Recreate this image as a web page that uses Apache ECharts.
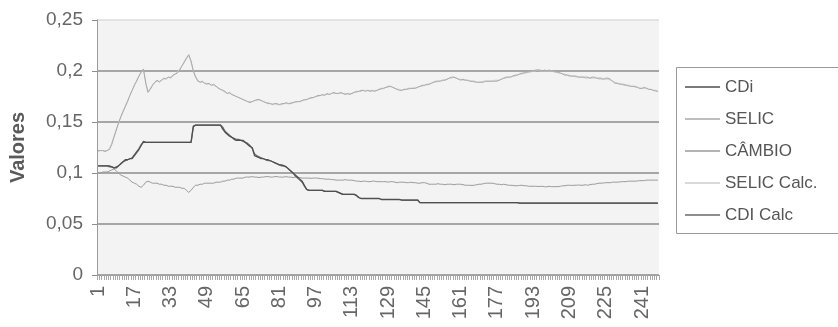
<!DOCTYPE html>
<html>
<head>
<meta charset="utf-8">
<style>
  html, body { margin: 0; padding: 0; background: #ffffff; overflow: hidden; }
  #chart { width: 838px; height: 327px; }
</style>
<script src="https://cdn.jsdelivr.net/npm/echarts@6/dist/echarts.min.js"></script>
</head>
<body>
<div id="chart"></div>
<script>
// Observation index 1..248
const categories = Array.from({ length: 248 }, (_, k) => String(k + 1));

const yTicks = [0, 0.05, 0.1, 0.15, 0.2, 0.25];

const cdi = [
  0.107,0.107,0.107,0.107,0.107,0.107,0.106,0.105,0.105,0.107,0.109,0.111,0.113,0.113,0.114,0.114,
  0.117,0.120,0.123,0.127,0.131,0.130,0.130,0.130,0.130,0.130,0.130,0.130,0.130,0.130,0.130,0.130,
  0.130,0.130,0.130,0.130,0.130,0.130,0.130,0.130,0.130,0.130,0.146,0.147,0.147,0.147,0.147,0.147,
  0.147,0.147,0.147,0.147,0.147,0.147,0.147,0.143,0.140,0.138,0.136,0.135,0.133,0.132,0.132,0.132,
  0.132,0.130,0.128,0.126,0.125,0.117,0.116,0.115,0.114,0.114,0.113,0.113,0.112,0.111,0.110,0.109,
  0.108,0.108,0.107,0.106,0.104,0.102,0.100,0.098,0.096,0.094,0.092,0.088,0.084,0.083,0.083,0.083,
  0.083,0.083,0.083,0.083,0.082,0.082,0.082,0.082,0.082,0.082,0.081,0.080,0.079,0.079,0.079,0.079,
  0.079,0.079,0.078,0.076,0.075,0.075,0.075,0.075,0.075,0.075,0.075,0.075,0.075,0.074,0.074,0.074,
  0.074,0.074,0.074,0.074,0.074,0.074,0.0735,0.0735,0.0735,0.0735,0.0735,0.0735,0.0735,0.0735,0.071,0.071,
  0.071,0.071,0.071,0.071,0.071,0.071,0.071,0.071,0.071,0.071,0.071,0.071,0.071,0.071,0.071,0.071,
  0.071,0.071,0.071,0.071,0.071,0.071,0.071,0.071,0.071,0.071,0.071,0.071,0.071,0.071,0.071,0.071,
  0.071,0.071,0.071,0.071,0.071,0.071,0.071,0.071,0.071,0.071,0.0705,0.0705,0.0705,0.0705,0.0705,0.0705,
  0.0705,0.0705,0.0705,0.0705,0.0705,0.0705,0.0705,0.0705,0.0705,0.0705,0.0705,0.0705,0.0705,0.0705,0.0705,0.0705,
  0.0705,0.0705,0.0705,0.0705,0.0705,0.0705,0.0705,0.0705,0.0705,0.0705,0.0705,0.0705,0.0705,0.0705,0.0705,0.0705,
  0.0705,0.0705,0.0705,0.0705,0.0705,0.0705,0.0705,0.0705,0.0705,0.0705,0.0705,0.0705,0.0705,0.0705,0.0705,0.0705,
  0.0705,0.0705,0.0705,0.0705,0.0705,0.0705,0.0705,0.0705
];

const selic = [
  0.122,0.122,0.122,0.121,0.122,0.123,0.128,0.135,0.142,0.149,0.155,0.160,0.165,0.170,0.176,0.181,
  0.186,0.190,0.195,0.199,0.202,0.188,0.179,0.182,0.186,0.189,0.191,0.189,0.191,0.193,0.192,0.194,
  0.193,0.196,0.197,0.198,0.201,0.205,0.209,0.213,0.216,0.210,0.200,0.194,0.190,0.189,0.190,0.188,
  0.187,0.188,0.186,0.187,0.185,0.183,0.182,0.181,0.180,0.178,0.179,0.177,0.176,0.175,0.174,0.173,
  0.172,0.171,0.170,0.169,0.170,0.171,0.172,0.172,0.171,0.170,0.169,0.168,0.168,0.167,0.168,0.168,
  0.167,0.168,0.168,0.169,0.168,0.168,0.169,0.170,0.170,0.170,0.171,0.172,0.172,0.173,0.174,0.174,
  0.175,0.176,0.176,0.177,0.176,0.178,0.177,0.178,0.179,0.178,0.178,0.179,0.178,0.177,0.178,0.177,
  0.178,0.179,0.180,0.180,0.181,0.181,0.180,0.181,0.180,0.181,0.180,0.181,0.182,0.183,0.183,0.184,
  0.185,0.185,0.184,0.183,0.182,0.181,0.181,0.182,0.182,0.183,0.183,0.183,0.183,0.184,0.185,0.186,
  0.186,0.187,0.187,0.188,0.189,0.190,0.190,0.190,0.191,0.191,0.192,0.193,0.194,0.194,0.193,0.192,
  0.191,0.192,0.191,0.191,0.190,0.190,0.190,0.189,0.189,0.189,0.189,0.190,0.190,0.190,0.190,0.190,
  0.190,0.191,0.192,0.193,0.194,0.194,0.194,0.195,0.196,0.196,0.197,0.198,0.198,0.199,0.199,0.200,
  0.200,0.201,0.201,0.201,0.200,0.201,0.200,0.201,0.200,0.200,0.199,0.199,0.198,0.197,0.196,0.196,
  0.195,0.195,0.195,0.195,0.194,0.194,0.194,0.194,0.194,0.193,0.194,0.194,0.193,0.193,0.193,0.192,
  0.193,0.193,0.192,0.190,0.188,0.188,0.187,0.187,0.187,0.186,0.186,0.185,0.185,0.185,0.184,0.183,
  0.183,0.184,0.183,0.182,0.182,0.181,0.181,0.180
];

const cambio = [
  0.100,0.100,0.101,0.101,0.101,0.102,0.103,0.104,0.102,0.100,0.098,0.097,0.096,0.095,0.093,0.091,
  0.090,0.089,0.087,0.086,0.088,0.091,0.092,0.091,0.090,0.090,0.090,0.089,0.089,0.088,0.088,0.087,
  0.087,0.087,0.086,0.086,0.086,0.085,0.085,0.083,0.081,0.083,0.086,0.088,0.088,0.089,0.089,0.090,
  0.090,0.090,0.090,0.090,0.091,0.091,0.091,0.092,0.092,0.093,0.093,0.094,0.094,0.095,0.095,0.095,
  0.095,0.096,0.096,0.096,0.0965,0.096,0.096,0.0955,0.096,0.096,0.0965,0.0965,0.096,0.096,0.0965,0.0965,
  0.096,0.096,0.096,0.0965,0.096,0.096,0.0955,0.096,0.096,0.0955,0.095,0.095,0.095,0.095,0.0948,0.095,
  0.095,0.095,0.0945,0.0945,0.094,0.094,0.094,0.0935,0.0935,0.093,0.093,0.093,0.093,0.0935,0.093,0.093,
  0.093,0.0925,0.092,0.092,0.0915,0.092,0.092,0.0915,0.0915,0.092,0.092,0.0915,0.0915,0.0915,0.0915,0.0915,
  0.091,0.0915,0.0915,0.091,0.0905,0.091,0.091,0.091,0.0905,0.0905,0.091,0.0905,0.0905,0.090,0.090,0.0905,
  0.0905,0.090,0.089,0.089,0.089,0.089,0.0895,0.089,0.089,0.0885,0.089,0.089,0.089,0.0885,0.089,0.089,
  0.089,0.0885,0.088,0.088,0.088,0.0878,0.088,0.0885,0.089,0.089,0.0895,0.090,0.090,0.090,0.090,0.0895,
  0.089,0.089,0.0885,0.089,0.0885,0.088,0.088,0.0878,0.0875,0.0875,0.0878,0.088,0.0875,0.0875,0.087,0.087,
  0.087,0.087,0.0868,0.0868,0.087,0.0865,0.0865,0.087,0.0866,0.0866,0.0866,0.0866,0.087,0.0875,0.0875,0.088,
  0.088,0.0878,0.088,0.088,0.0882,0.088,0.088,0.0885,0.088,0.0885,0.089,0.089,0.0895,0.090,0.090,0.0902,
  0.0905,0.0905,0.0905,0.091,0.091,0.091,0.0912,0.0915,0.0915,0.0915,0.092,0.092,0.092,0.092,0.0922,0.0925,
  0.0925,0.0925,0.093,0.093,0.093,0.093,0.093,0.093
];

const selicCalc = [
  0.121,0.122,0.122,0.122,0.122,0.124,0.129,0.136,0.143,0.149,0.155,0.161,0.166,0.171,0.176,0.181,
  0.186,0.191,0.195,0.199,0.201,0.189,0.180,0.183,0.186,0.189,0.190,0.190,0.191,0.192,0.193,0.194,
  0.194,0.195,0.197,0.199,0.202,0.205,0.208,0.212,0.215,0.209,0.200,0.195,0.191,0.189,0.189,0.188,
  0.188,0.187,0.186,0.186,0.185,0.184,0.182,0.181,0.179,0.178,0.178,0.177,0.176,0.175,0.174,0.173,
  0.172,0.171,0.170,0.170,0.170,0.171,0.171,0.172,0.171,0.170,0.169,0.169,0.168,0.168,0.168,0.167,
  0.167,0.167,0.168,0.168,0.168,0.169,0.169,0.169,0.170,0.170,0.171,0.171,0.172,0.173,0.173,0.174,
  0.175,0.175,0.176,0.176,0.177,0.177,0.177,0.178,0.178,0.178,0.178,0.178,0.178,0.178,0.177,0.178,
  0.178,0.179,0.179,0.180,0.180,0.181,0.181,0.181,0.181,0.180,0.181,0.181,0.182,0.182,0.183,0.184,
  0.184,0.185,0.184,0.183,0.182,0.182,0.181,0.182,0.182,0.182,0.183,0.183,0.184,0.184,0.185,0.185,
  0.186,0.186,0.187,0.188,0.189,0.189,0.190,0.190,0.191,0.191,0.192,0.193,0.193,0.194,0.193,0.192,
  0.192,0.191,0.191,0.191,0.190,0.190,0.189,0.189,0.189,0.189,0.190,0.190,0.190,0.190,0.190,0.191,
  0.191,0.191,0.192,0.193,0.193,0.194,0.194,0.195,0.195,0.196,0.197,0.197,0.198,0.198,0.199,0.199,
  0.200,0.200,0.201,0.200,0.200,0.200,0.200,0.200,0.200,0.199,0.199,0.198,0.198,0.197,0.197,0.196,
  0.196,0.195,0.195,0.194,0.194,0.194,0.194,0.193,0.193,0.193,0.193,0.193,0.193,0.192,0.192,0.192,
  0.192,0.192,0.191,0.190,0.189,0.188,0.188,0.187,0.186,0.186,0.185,0.185,0.185,0.184,0.184,0.183,
  0.183,0.183,0.183,0.182,0.182,0.181,0.180,0.180
];

const cdiCalc = [
  0.107,0.107,0.107,0.107,0.107,0.106,0.106,0.105,0.106,0.107,0.109,0.111,0.112,0.113,0.114,0.115,
  0.118,0.121,0.124,0.128,0.130,0.130,0.130,0.130,0.130,0.130,0.130,0.130,0.130,0.130,0.130,0.130,
  0.130,0.130,0.130,0.130,0.130,0.130,0.130,0.130,0.130,0.130,0.145,0.147,0.147,0.147,0.147,0.147,
  0.147,0.147,0.147,0.147,0.147,0.147,0.147,0.145,0.141,0.139,0.137,0.135,0.134,0.133,0.133,0.132,
  0.131,0.130,0.129,0.127,0.124,0.119,0.117,0.116,0.115,0.114,0.113,0.112,0.112,0.111,0.110,0.109,
  0.108,0.107,0.107,0.106,0.104,0.102,0.100,0.097,0.095,0.093,0.091,0.087,0.084,0.083,0.083,0.083,
  0.083,0.083,0.083,0.083,0.082,0.082,0.082,0.082,0.082,0.082,0.081,0.080,0.079,0.079,0.079,0.079,
  0.079,0.079,0.078,0.076,0.075,0.075,0.075,0.075,0.075,0.075,0.075,0.075,0.075,0.074,0.074,0.074,
  0.074,0.074,0.074,0.074,0.074,0.074,0.0735,0.0735,0.0735,0.0735,0.0735,0.0735,0.0735,0.0735,0.071,0.071,
  0.071,0.071,0.071,0.071,0.071,0.071,0.071,0.071,0.071,0.071,0.071,0.071,0.071,0.071,0.071,0.071,
  0.071,0.071,0.071,0.071,0.071,0.071,0.071,0.071,0.071,0.071,0.071,0.071,0.071,0.071,0.071,0.071,
  0.071,0.071,0.071,0.071,0.071,0.071,0.071,0.071,0.071,0.071,0.0705,0.0705,0.0705,0.0705,0.0705,0.0705,
  0.0705,0.0705,0.0705,0.0705,0.0705,0.0705,0.0705,0.0705,0.0705,0.0705,0.0705,0.0705,0.0705,0.0705,0.0705,0.0705,
  0.0705,0.0705,0.0705,0.0705,0.0705,0.0705,0.0705,0.0705,0.0705,0.0705,0.0705,0.0705,0.0705,0.0705,0.0705,0.0705,
  0.0705,0.0705,0.0705,0.0705,0.0705,0.0705,0.0705,0.0705,0.0705,0.0705,0.0705,0.0705,0.0705,0.0705,0.0705,0.0705,
  0.0705,0.0705,0.0705,0.0705,0.0705,0.0705,0.0705,0.0705
];

const seriesNames = ['CDi', 'SELIC', 'CÂMBIO', 'SELIC Calc.', 'CDI Calc'];

const FONT = '"Liberation Sans", Arial, sans-serif';
const chart = echarts.init(document.getElementById('chart'), null, { renderer: 'canvas' });

function lineSeries(name, data, color, width, z) {
  return {
    name, type: 'line', data, z,
    symbol: 'none', showSymbol: false, smooth: false,
    lineStyle: { color, width },
    itemStyle: { color },
    emphasis: { disabled: true }
  };
}

chart.setOption({
  animation: false,
  backgroundColor: '#ffffff',
  textStyle: { fontFamily: FONT },
  grid: {
    left: 97, right: 179, top: 20, bottom: 52,
    show: true, backgroundColor: '#f3f3f3', borderWidth: 0
  },
  // Legend frame runs past the right edge of the canvas
  graphic: [{
    type: 'rect', silent: true,
    shape: { x: 676.5, y: 67.5, width: 220, height: 166 },
    style: { fill: 'transparent', stroke: '#9a9a9a', lineWidth: 1 }
  }],
  legend: {
    data: seriesNames,
    orient: 'vertical',
    left: 676, top: 67,
    padding: [11, 10, 9, 9],
    icon: 'rect',
    itemWidth: 35, itemHeight: 1.5, itemGap: 14,
    borderWidth: 0,
    textStyle: { fontFamily: FONT, fontSize: 17, color: '#555', lineHeight: 18 }
  },
  xAxis: {
    type: 'category',
    data: categories,
    boundaryGap: true,
    axisLine: { lineStyle: { color: '#9a9a9a', width: 1 } },
    axisTick: { show: true, interval: 0, length: 5, lineStyle: { color: '#a8a8a8' } },
    axisLabel: {
      interval: 15, rotate: 90, margin: 11,
      fontFamily: FONT, fontSize: 20, color: '#666'
    },
    splitLine: { show: false }
  },
  yAxis: {
    type: 'value',
    min: yTicks[0], max: yTicks[yTicks.length - 1], interval: 0.05,
    name: 'Valores', nameLocation: 'middle', nameGap: 69,
    nameTextStyle: { fontFamily: FONT, fontSize: 20, fontWeight: 'bold', color: '#5a5a5a' },
    axisLine: { show: true, lineStyle: { color: '#9a9a9a', width: 1 } },
    axisTick: { show: true, length: 5, lineStyle: { color: '#8c8c8c' } },
    axisLabel: {
      margin: 14, fontFamily: FONT, fontSize: 19, color: '#666',
      formatter: v => String(+v.toFixed(2)).replace('.', ',')
    },
    splitLine: {
      show: true,
      lineStyle: { color: ['#8c8c8c', '#8c8c8c', '#8c8c8c', '#8c8c8c', '#8c8c8c', '#dcdcdc'], width: 1.5 }
    }
  },
  series: [
    lineSeries('CDi', cdi, '#4f4f4f', 1.3, 6),
    lineSeries('SELIC', selic, '#a9a9a9', 1, 3),
    lineSeries('CÂMBIO', cambio, '#9a9a9a', 1, 4),
    lineSeries('SELIC Calc.', selicCalc, '#cdcdcd', 1, 2),
    lineSeries('CDI Calc', cdiCalc, '#6a6a6a', 1.2, 5)
  ]
});
</script>
</body>
</html>
